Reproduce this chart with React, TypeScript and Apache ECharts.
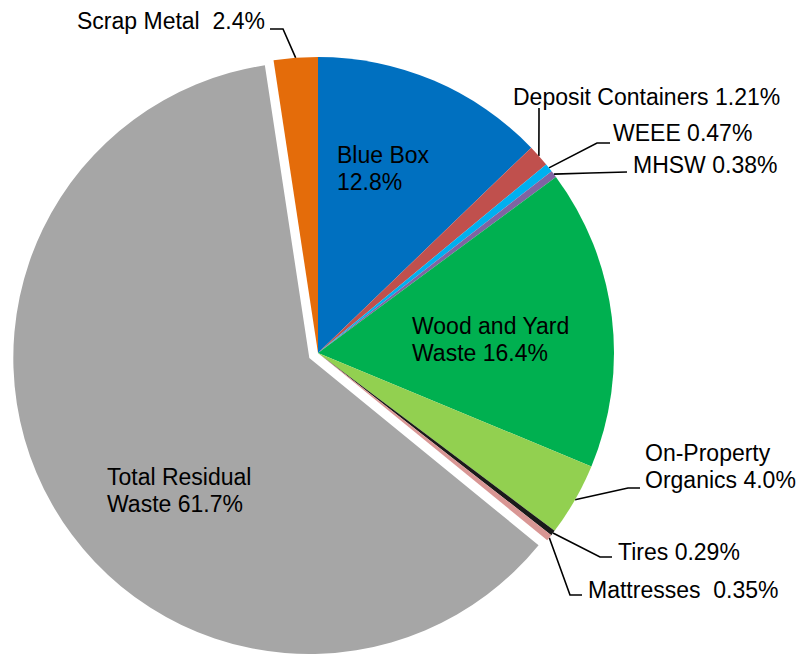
import React, { useEffect, useRef } from "react";
import * as echarts from "echarts";

const categories = [
  "Blue Box",
  "Deposit Containers",
  "WEEE",
  "MHSW",
  "Wood and Yard Waste",
  "On-Property Organics",
  "Tires",
  "Mattresses",
  "Total Residual Waste",
  "Scrap Metal",
];
const values = [12.8, 1.21, 0.47, 0.38, 16.4, 4.0, 0.29, 0.35, 61.7, 2.4];
const decimals = [1, 2, 2, 2, 1, 1, 2, 2, 1, 1];
const labelPrefixes = [
  "Blue Box\n",
  "Deposit Containers ",
  "WEEE ",
  "MHSW ",
  "Wood and Yard\nWaste ",
  "On-Property\nOrganics ",
  "Tires ",
  "Mattresses  ",
  "Total Residual\nWaste ",
  "Scrap Metal  ",
];
const colors = [
  "#0070C0",
  "#C0504D",
  "#00B0F0",
  "#8064A2",
  "#00B050",
  "#92D050",
  "#1A1A1A",
  "#D99694",
  "#A6A6A6",
  "#E46C0A",
];
const insideIdx = [0, 4, 8];
const explodedIdx = 8;

// label top-left positions (layout only)
const labelPos: number[][] = [
  [337, 141],
  [513, 83],
  [613, 119],
  [633, 151],
  [412, 312],
  [645, 439],
  [618, 538],
  [588, 576],
  [107, 463],
  [77, 7],
];
// leader line bend and end points (layout only)
const leaderPts: (number[][] | null)[] = [
  null,
  [[539, 120], [539, 108]],
  [[597, 143], [610, 143]],
  [[590, 173], [627, 172]],
  null,
  [[628, 488], [640, 488]],
  [[600, 557], [612, 557]],
  [[570, 595], [582, 595]],
  null,
  [[283, 29], [270, 29]],
];

const CENTER = [318, 353];
const RADIUS = 296;
const EXPLODE = 10;

export default function App() {
  const ref = useRef<HTMLDivElement>(null);
  useEffect(() => {
    document.body.style.margin = "0";
    if (!ref.current) return;
    const chart = echarts.init(ref.current, undefined, { renderer: "svg" });

    const total = values.reduce((a, b) => a + b, 0);
    const before = values.slice(0, explodedIdx).reduce((a, b) => a + b, 0);
    const midFrac = (before + values[explodedIdx] / 2) / total;
    const theta = midFrac * Math.PI * 2;
    const explodedCenter = [
      CENTER[0] + EXPLODE * Math.sin(theta),
      CENTER[1] - EXPLODE * Math.cos(theta),
    ];

    const makeData = (showExploded: boolean) =>
      categories.map((name, i) => {
        const inside = insideIdx.includes(i);
        const visible = (i === explodedIdx) === showExploded;
        return {
          name,
          value: values[i],
          itemStyle: { color: colors[i], opacity: visible ? 1 : 0 },
          label: {
            show: visible,
            position: inside ? "inside" : "outside",
            align: "left",
          },
          labelLine: { show: visible && !inside },
        };
      });

    const baseSeries = {
      type: "pie",
      radius: RADIUS,
      startAngle: 90,
      clockwise: true,
      avoidLabelOverlap: false,
      silent: true,
      itemStyle: { borderWidth: 0 },
      emphasis: { disabled: true },
      label: {
        show: true,
        color: "#000",
        fontFamily: "Liberation Sans, Arial, sans-serif",
        fontSize: 23,
        lineHeight: 27,
        align: "left",
        formatter: (p: any) =>
          labelPrefixes[p.dataIndex] +
          Number(p.value).toFixed(decimals[p.dataIndex]) +
          "%",
      },
      labelLine: {
        show: true,
        length: 10,
        length2: 10,
        lineStyle: { color: "#000", width: 1.6 },
      },
      labelLayout: (params: any) => {
        const i = params.dataIndex;
        const pos = labelPos[i];
        const res: any = {
          x: pos[0],
          y: pos[1],
          align: "left",
          verticalAlign: "top",
        };
        const lp = leaderPts[i];
        if (lp && params.labelLinePoints && params.labelLinePoints[0]) {
          res.labelLinePoints = [params.labelLinePoints[0], lp[0], lp[1]];
        }
        return res;
      },
    };

    chart.setOption({
      animation: false,
      series: [
        { ...baseSeries, center: CENTER, data: makeData(false) },
        { ...baseSeries, center: explodedCenter, data: makeData(true) },
      ],
    });
    return () => chart.dispose();
  }, []);
  return <div ref={ref} style={{ width: 806, height: 654 }} />;
}
